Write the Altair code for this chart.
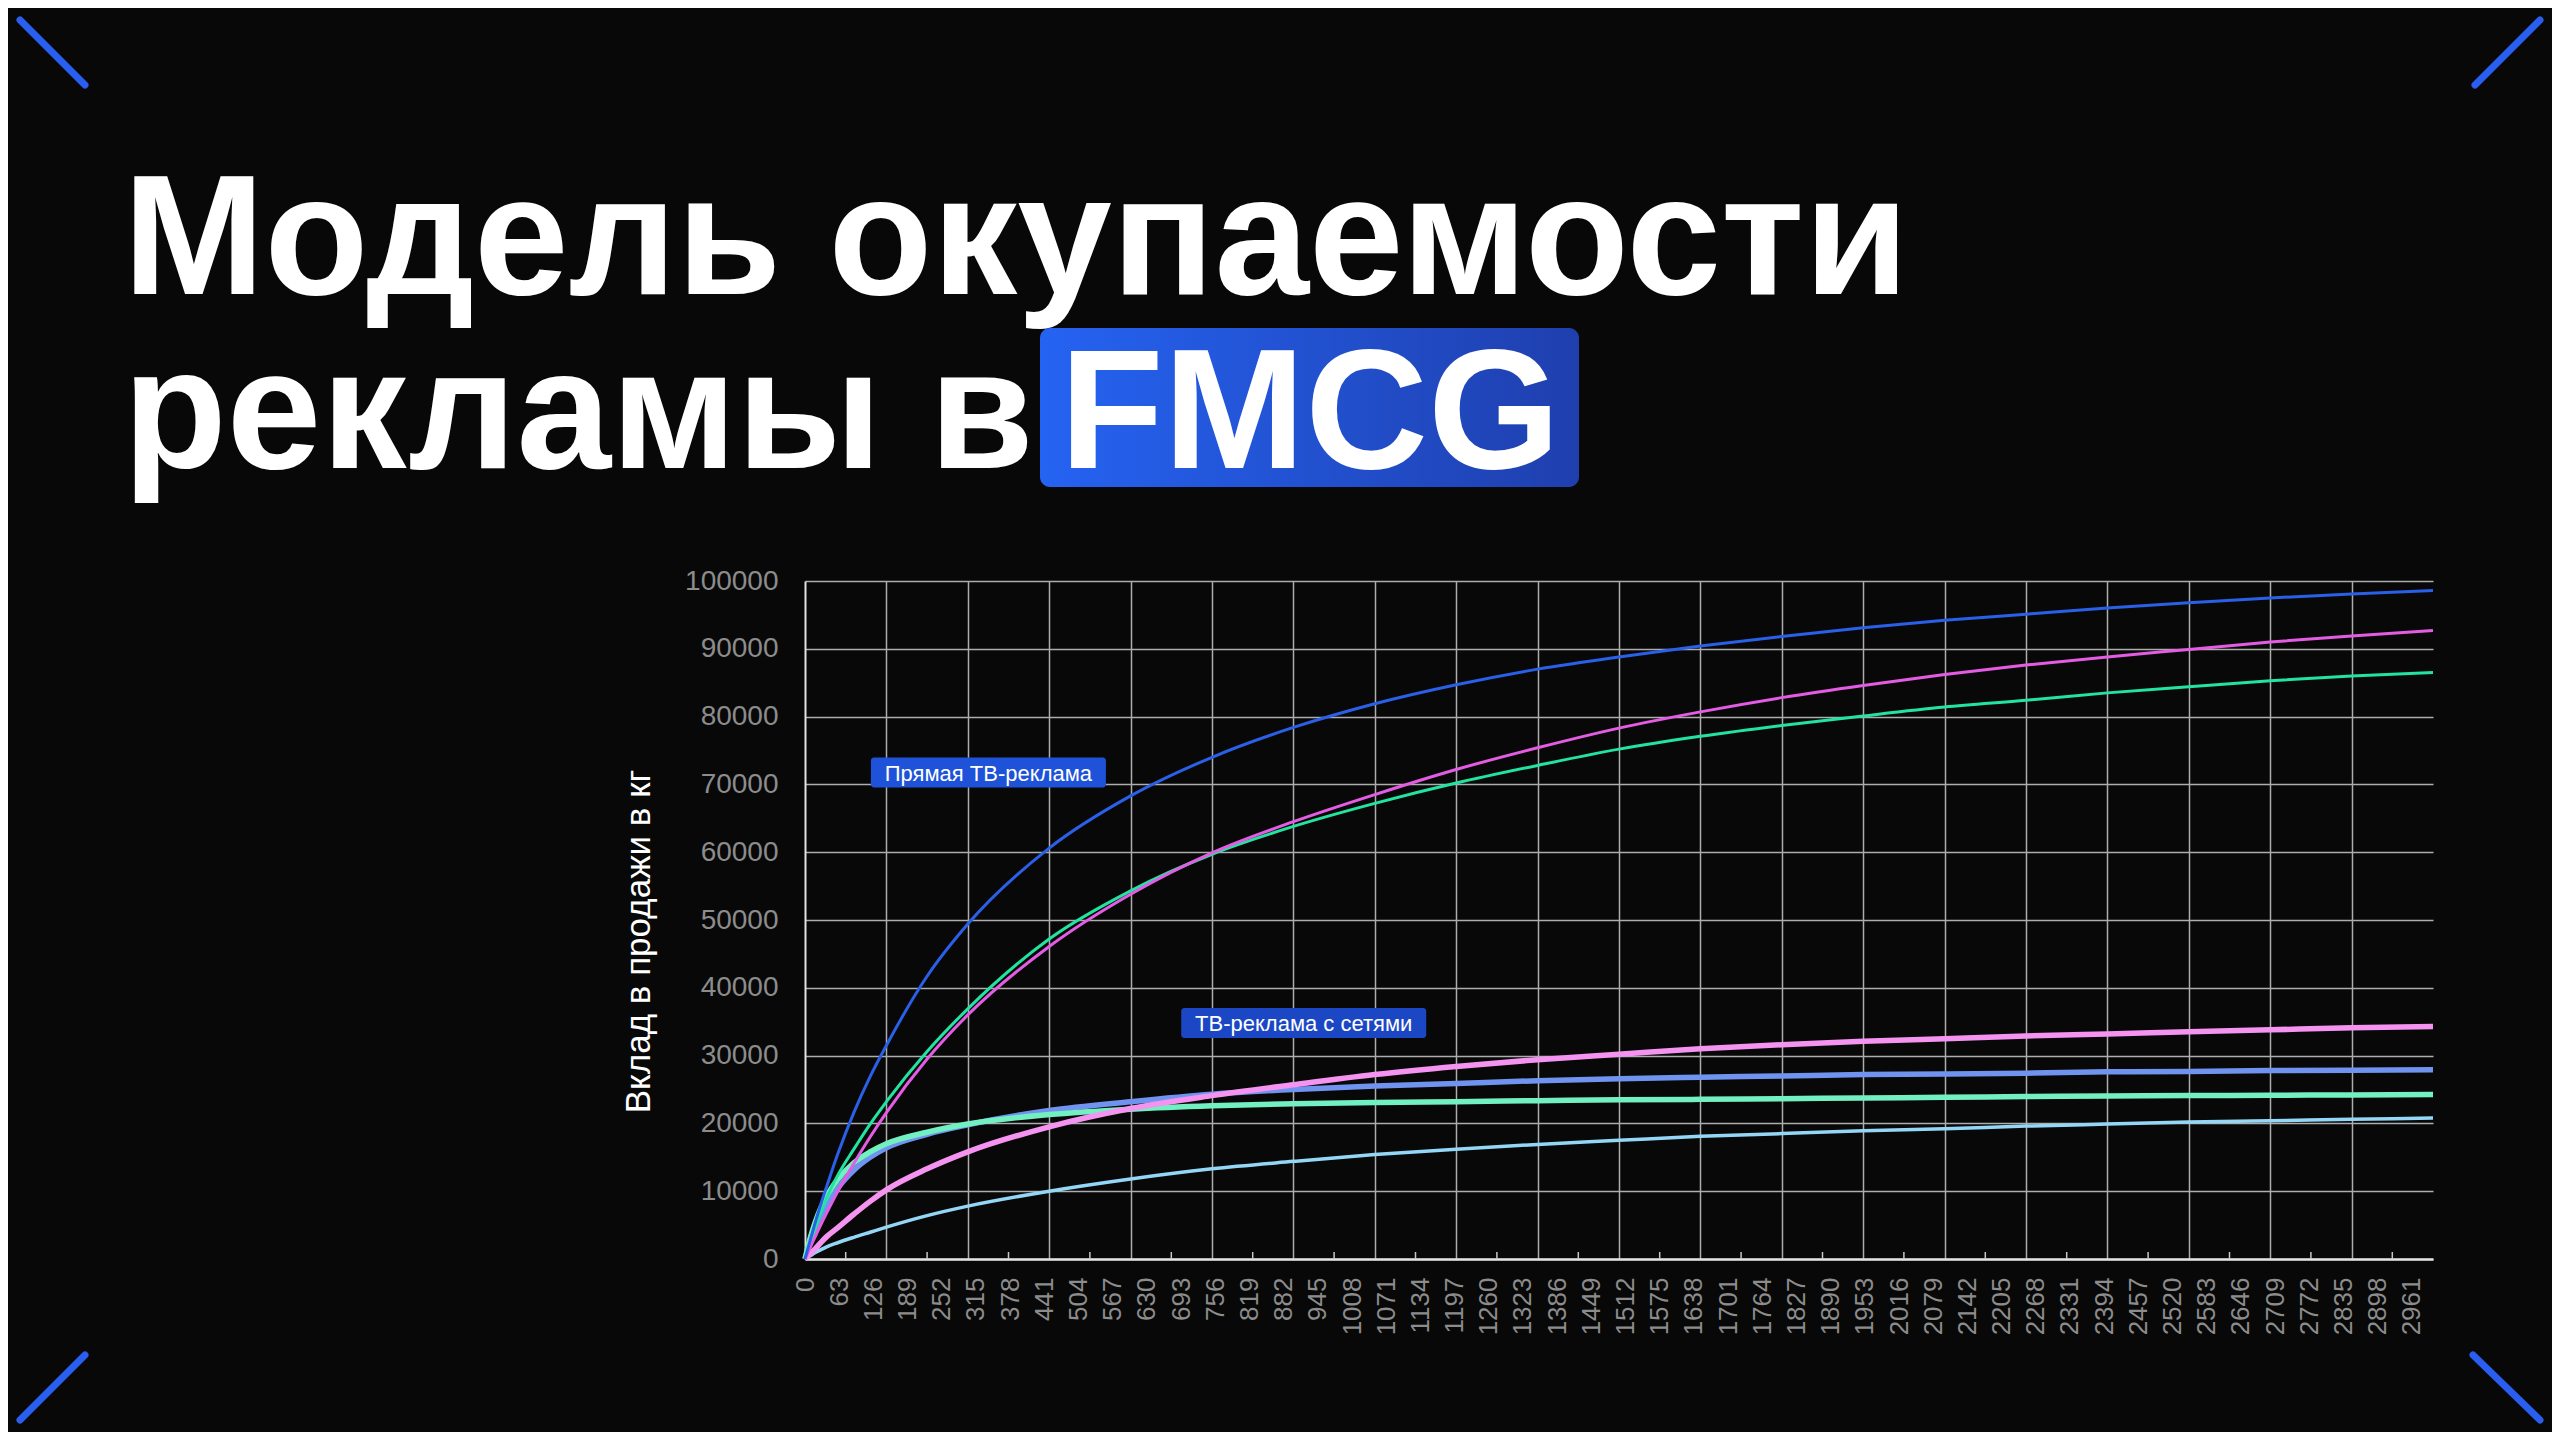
import altair as alt
import pandas as pd

# ---------------- data ----------------
days = [0, 10, 20, 30, 40, 60, 90, 120, 150, 225, 300, 450, 600, 750, 900, 1050,
        1200, 1350, 1500, 1650, 1800, 1950, 2100, 2250, 2400, 2550, 2700, 2850, 3000]

direct_blue = [0, 2900, 5700, 8300, 10700, 15400, 21600, 26900, 31500, 41700, 49400,
               60600, 68300, 74000, 78400, 81900, 84700, 87000, 88800, 90400, 91800,
               93100, 94200, 95100, 96000, 96800, 97500, 98100, 98600]
direct_magenta = [0, 1800, 3500, 5200, 6800, 9900, 14100, 18000, 21600, 29500, 36000,
                  46100, 53800, 59900, 64500, 68500, 72200, 75400, 78300, 80700, 82800,
                  84600, 86200, 87600, 88800, 89900, 91000, 91900, 92700]
direct_green = [0, 2500, 4800, 7000, 9000, 12300, 16200, 19900, 23200, 30600, 36900,
                47200, 54300, 59700, 63800, 67200, 70200, 72800, 75200, 77100, 78700,
                80100, 81400, 82400, 83500, 84400, 85300, 86000, 86500]
nets_pink = [0, 800, 1600, 2500, 3300, 4600, 6600, 8500, 10200, 13300, 15800, 19500,
             22200, 24100, 25700, 27200, 28400, 29400, 30200, 31000, 31600, 32100,
             32500, 32900, 33200, 33500, 33800, 34100, 34300]
nets_periwinkle = [0, 2500, 4600, 6400, 7900, 10400, 13100, 15000, 16400, 18400, 19800,
                   21900, 23200, 24300, 25000, 25500, 25900, 26300, 26600, 26800, 27000,
                   27200, 27300, 27400, 27600, 27650, 27800, 27850, 27900]
nets_lightgreen = [0, 3200, 5700, 7700, 9300, 11700, 14200, 15800, 17000, 18700, 19900,
                   21300, 22100, 22600, 22900, 23100, 23200, 23350, 23500, 23550, 23650,
                   23750, 23850, 23950, 24050, 24100, 24150, 24200, 24250]
nets_sky = [0, 500, 1000, 1400, 1800, 2400, 3200, 3950, 4700, 6400, 7800, 10000, 11800,
            13300, 14400, 15400, 16200, 16900, 17500, 18100, 18500, 18900, 19200, 19600,
            19900, 20200, 20400, 20600, 20800]

series_names = ["ТВ-реклама с сетями 4", "ТВ-реклама с сетями 2",
                "ТВ-реклама с сетями 3", "ТВ-реклама с сетями 1",
                "Прямая ТВ-реклама 3", "Прямая ТВ-реклама 2", "Прямая ТВ-реклама 1"]
series_values = [nets_sky, nets_periwinkle, nets_lightgreen, nets_pink,
                 direct_green, direct_magenta, direct_blue]

x_label_values = [0, 63, 126, 189, 252, 315, 378, 441, 504, 567, 630, 693, 756, 819,
                  882, 945, 1008, 1071, 1134, 1197, 1260, 1323, 1386, 1449, 1512,
                  1575, 1638, 1701, 1764, 1827, 1890, 1953, 2016, 2079, 2142, 2205,
                  2268, 2331, 2394, 2457, 2520, 2583, 2646, 2709, 2772, 2835, 2898,
                  2961]
x_grid_values = [150, 300, 450, 600, 750, 900, 1050, 1200, 1350, 1500, 1650, 1800,
                 1950, 2100, 2250, 2400, 2550, 2700, 2850]
x_tick_values = [75, 225, 375, 525, 675, 825, 975, 1125, 1275, 1425, 1575, 1725,
                 1875, 2025, 2175, 2325, 2475, 2625, 2775, 2925]
y_values = [0, 10000, 20000, 30000, 40000, 50000, 60000, 70000, 80000, 90000, 100000]

annotation_labels = ["Прямая ТВ-реклама", "ТВ-реклама с сетями"]
annotation_days = [338, 919]
annotation_values = [71750, 34800]

title_line1 = "Модель окупаемости"
title_line2 = "рекламы в"
title_highlight = "FMCG"
y_title = "Вклад в продажи в кг"

# ---------------- styles ----------------
series_colors = ["#94d6f6", "#6f93ee", "#72f0c2", "#f494f0", "#22e3a0", "#e45ce3", "#2a5fe8"]
series_widths = [3.5, 5.5, 5.5, 5.5, 3, 3, 3]
FONT = "Liberation Sans"
BG = "#080808"
W, H = 1628, 678

rows = []
for name, vals in zip(series_names, series_values):
    for d, v in zip(days, vals):
        rows.append({"series": name, "day": d, "value": v})
lines_df = pd.DataFrame(rows)

x_scale = alt.Scale(domain=[0, 3000], nice=False, zero=True)
y_scale = alt.Scale(domain=[0, 100000], nice=False)

main_x_axis = alt.Axis(values=x_label_values, format="d", grid=False, ticks=False,
                       tickSize=0, labelAngle=270, labelPadding=18, labelFontSize=26,
                       labelColor="#8c8c8c", labelFont=FONT, labelOverlap=False,
                       labelFlush=False, labelBound=False, domain=True,
                       domainColor="#e2e2e2", domainWidth=2.5, title=None)
main_y_axis = alt.Axis(values=y_values, format="d", grid=True, gridColor="#adadad",
                       gridWidth=1.5, ticks=False, tickSize=0, labelPadding=27,
                       labelFontSize=28, labelColor="#8c8c8c", labelFont=FONT,
                       domain=True, domainColor="#e2e2e2", domainWidth=2,
                       title=y_title, titleColor="#ffffff", titleFont=FONT,
                       titleFontSize=35, titleFontWeight="normal",
                       titlePadding=28, titleY=360)

line_layers = []
for i, (name, col, w) in enumerate(zip(series_names, series_colors, series_widths)):
    line_layers.append(
        alt.Chart(lines_df).transform_filter(alt.datum.series == name)
        .mark_line(interpolate="monotone", color=col, strokeWidth=w)
        .encode(
            x=alt.X("day:Q", scale=x_scale, axis=main_x_axis if i == 0 else None),
            y=alt.Y("value:Q", scale=y_scale, axis=main_y_axis if i == 0 else None),
        )
    )

ticks_df = pd.DataFrame({"day": x_tick_values})
ticks = alt.Chart(ticks_df).mark_rule(color="#c8c8c8", strokeWidth=1.5).encode(
    x=alt.X("day:Q", scale=x_scale,
            axis=alt.Axis(orient="top", values=x_grid_values, grid=True,
                          gridColor="#adadad", gridWidth=1.5, labels=False,
                          ticks=False, domain=False, title=None)),
    y=alt.value(H),
    y2=alt.value(H - 7),
)

ann_layers = []
ann_widths = [235, 245]
ann_colors = ["#1e52d8", "#1c47c4"]
for lab, d, v, w, c in zip(annotation_labels, annotation_days, annotation_values,
                           ann_widths, ann_colors):
    adf = pd.DataFrame({"day": [d], "value": [v], "label": [lab]})
    box = alt.Chart(adf).mark_rect(width=w, height=30, cornerRadius=3, color=c).encode(
        x=alt.X("day:Q", axis=None), y=alt.Y("value:Q", axis=None))
    txt = alt.Chart(adf).mark_text(font=FONT, fontSize=22, color="#ffffff",
                                   align="center", baseline="middle", dy=1).encode(
        x=alt.X("day:Q", axis=None), y=alt.Y("value:Q", axis=None), text="label:N")
    ann_layers += [box, txt]

one = pd.DataFrame({"k": [0]})
t1 = alt.Chart(pd.DataFrame({"t": [title_line1]})).mark_text(
    font=FONT, fontSize=170, fontWeight="bold", color="#ffffff",
    align="left", baseline="alphabetic").encode(
    x=alt.value(-682), y=alt.value(-287), text="t:N")
t2 = alt.Chart(pd.DataFrame({"t": [title_line2]})).mark_text(
    font=FONT, fontSize=170, fontWeight="bold", color="#ffffff",
    align="left", baseline="alphabetic").encode(
    x=alt.value(-682), y=alt.value(-113), text="t:N")
grad = alt.LinearGradient(gradient="linear",
                          stops=[alt.GradientStop(color="#2563f2", offset=0),
                                 alt.GradientStop(color="#1f3fae", offset=1)],
                          x1=0, x2=1, y1=0, y2=0)
hl_box = alt.Chart(one).mark_rect(color=grad, cornerRadius=10).encode(
    x=alt.value(235), x2=alt.value(774), y=alt.value(-253), y2=alt.value(-94))
hl_txt = alt.Chart(pd.DataFrame({"t": [title_highlight]})).mark_text(
    font=FONT, fontSize=170, fontWeight="bold", color="#ffffff",
    align="center", baseline="alphabetic").encode(
    x=alt.value(505), y=alt.value(-113), text="t:N")

corner_specs = [(-785, -720, -561, -496), (1735, 1670, -561, -496),
                (-785, -720, 839, 774), (1668, 1735, 774, 839)]
corners = []
for xa, xb, ya, yb in corner_specs:
    corners.append(alt.Chart(one).mark_rule(color="#2a5ef0", strokeWidth=7,
                                            strokeCap="round").encode(
        x=alt.value(xa), x2=alt.value(xb), y=alt.value(ya), y2=alt.value(yb)))

chart = alt.layer(ticks, *line_layers, *ann_layers, t1, t2, hl_box, hl_txt,
                  *corners).resolve_axis(
    x="independent", y="independent"
).properties(
    width=W, height=H,
    autosize=alt.AutoSizeParams(type="none"),
    padding={"left": 797, "top": 573, "right": 119, "bottom": 173},
    background=BG,
).configure_view(strokeWidth=0)

chart.save("out.html", embed_options={"renderer": "svg", "actions": False})
